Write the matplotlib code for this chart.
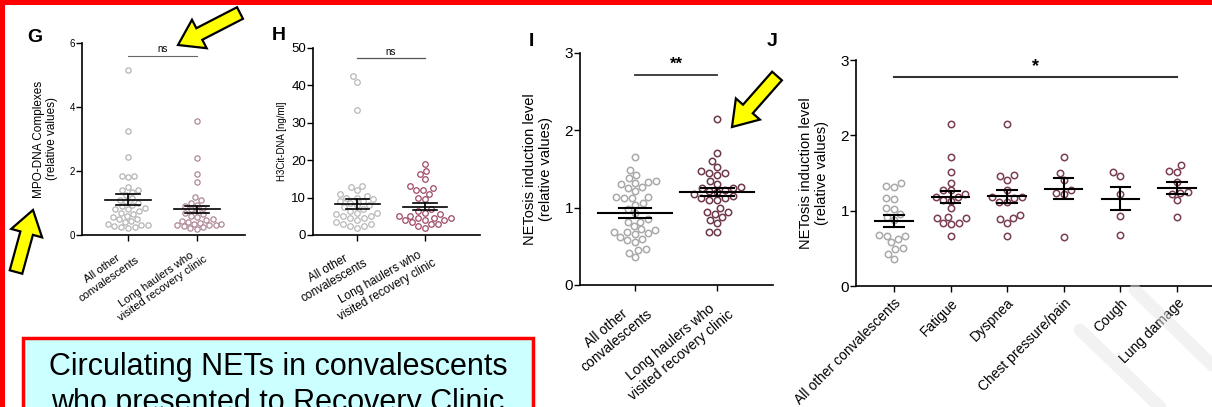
import numpy as np
import matplotlib
matplotlib.use("Agg")
import matplotlib.pyplot as plt
from matplotlib.patches import Rectangle, FancyArrow

plt.rcParams['font.family'] = ['Liberation Sans', 'DejaVu Sans']

# ---- data ----
two_groups = ["All other\nconvalescents", "Long haulers who\nvisited recovery clinic"]

g_other = [5.15, 3.25, 2.45, 1.85, 1.85, 1.8, 1.5, 1.42, 1.4, 1.35, 1.25, 1.15, 1.1, 1.05,
           1.0, 0.95, 0.9, 0.85, 0.8, 0.8, 0.75, 0.7, 0.65, 0.6, 0.55, 0.5, 0.5, 0.45, 0.4,
           0.35, 0.3, 0.3, 0.28, 0.25, 0.25, 0.22]
g_long = [3.55, 2.4, 1.9, 1.65, 1.18, 1.1, 1.0, 0.95, 0.9, 0.85, 0.8, 0.75, 0.7, 0.65, 0.6,
          0.55, 0.5, 0.48, 0.45, 0.4, 0.38, 0.35, 0.35, 0.32, 0.3, 0.3, 0.28, 0.25, 0.22, 0.2]
g_mean = [1.1, 0.8]
g_sem = [0.17, 0.12]

h_other = [42.5, 41, 33.5, 13.2, 12.8, 12, 11, 10.5, 10, 10, 9.5, 9, 9, 8.5, 8, 8, 7.5, 7,
           6.5, 6, 6, 5.5, 5, 5, 4.5, 4.5, 4, 3.5, 3, 3, 2.5, 2.5, 2]
h_long = [19, 17, 16.3, 15, 13, 12.5, 12, 12, 11, 10, 9.5, 7, 6.5, 6, 5.5, 5, 5, 4.5, 4.5,
          4.5, 4, 4, 4, 3.5, 3, 3, 2.5, 2]
h_mean = [8.3, 7.6]
h_sem = [1.4, 1.0]

i_other = [1.65, 1.49, 1.42, 1.38, 1.34, 1.33, 1.32, 1.31, 1.27, 1.26, 1.22, 1.14, 1.14,
           1.13, 1.12, 1.06, 1.03, 0.98, 0.93, 0.85, 0.82, 0.82, 0.76, 0.72, 0.71, 0.69,
           0.68, 0.67, 0.66, 0.62, 0.6, 0.58, 0.55, 0.46, 0.45, 0.42, 0.36]
i_long = [2.15, 1.71, 1.6, 1.52, 1.48, 1.45, 1.45, 1.42, 1.35, 1.3, 1.27, 1.26, 1.25, 1.23,
          1.21, 1.2, 1.18, 1.15, 1.13, 1.12, 1.1, 1.1, 1.0, 0.95, 0.95, 0.92, 0.88, 0.84,
          0.8, 0.68, 0.68]
i_mean = [0.93, 1.2]
i_sem = [0.065, 0.05]

j_groups = ["All other convalescents", "Fatigue", "Dyspnea", "Chest pressure/pain",
            "Cough", "Lung damage"]
j_other = [1.37, 1.33, 1.32, 1.17, 1.16, 1.03, 1.02, 0.95, 0.92, 0.88, 0.68, 0.67, 0.67,
           0.62, 0.58, 0.5, 0.49, 0.43, 0.36]
j_fatigue = [2.15, 1.71, 1.51, 1.37, 1.28, 1.27, 1.22, 1.18, 1.18, 1.14, 1.13, 1.03, 0.91,
             0.9, 0.9, 0.84, 0.83, 0.82, 0.67]
j_dyspnea = [2.15, 1.47, 1.46, 1.41, 1.27, 1.18, 1.18, 1.17, 1.12, 1.11, 0.94, 0.9, 0.89,
             0.83, 0.67]
j_chest = [1.71, 1.5, 1.41, 1.28, 1.23, 1.22, 0.65]
j_cough = [1.51, 1.46, 1.22, 0.93, 0.68]
j_lung = [1.6, 1.52, 1.51, 1.38, 1.25, 1.24, 1.22, 1.14, 0.92]
j_mean = [0.86, 1.18, 1.19, 1.29, 1.16, 1.30]
j_sem = [0.08, 0.08, 0.09, 0.14, 0.15, 0.085]

GREY = '#a9a9a9'
W, H = 1212, 407
fig = plt.figure(figsize=(W / 100, H / 100), dpi=100)
fig.patch.set_facecolor('white')


def px_axes(left, top, right, bottom):
    # axes placed by pixel box
    return fig.add_axes([left / W, 1 - bottom / H, (right - left) / W, (bottom - top) / H])


def swarm(ax, xc, vals, color, ms, mew, maxw):
    # beeswarm kept inside +-maxw pixels; overlaps allowed when it gets crowded
    fig.canvas.draw()
    t = ax.transData
    d = (ms + mew) * 1.39 * 0.95
    offs = sorted(np.arange(-maxw, maxw + 0.5, 1.0), key=abs)
    placed = []
    for v in sorted(vals):
        px, py = t.transform((xc, v))
        best, bestd = 0.0, -1
        for off in offs:
            md = min([np.hypot(px + off - a, py - b) for a, b in placed] or [1e9])
            if md >= d:
                best = off
                break
            if md > bestd:
                best, bestd = off, md
        placed.append((px + best, py))
    pts = t.inverted().transform(placed)
    ax.plot(pts[:, 0], pts[:, 1], 'o', ms=ms, mfc='none', mec=color, mew=mew,
            clip_on=False, zorder=2)


def mean_sem(ax, means, sems, half=0.3, cap=0.15, lw=1.4):
    for i, (m, s) in enumerate(zip(means, sems)):
        ax.plot([i - half, i + half], [m, m], color='black', lw=lw, zorder=3)
        ax.plot([i, i], [m - s, m + s], color='black', lw=lw, zorder=3)
        ax.plot([i - cap, i + cap], [m - s, m - s], color='black', lw=lw, zorder=3)
        ax.plot([i - cap, i + cap], [m + s, m + s], color='black', lw=lw, zorder=3)


def style(ax, xlim, ylim, yticks, tfs, labels, xfs, rot):
    ax.set_xlim(*xlim)
    ax.set_ylim(*ylim)
    ax.set_yticks(yticks)
    ax.set_xticks(range(len(labels)))
    ax.set_xticklabels(labels, rotation=rot, ha='right', rotation_mode='anchor',
                       fontsize=xfs, multialignment='center')
    ax.tick_params(axis='y', labelsize=tfs, length=4, width=1, pad=1)
    ax.tick_params(axis='x', length=4, width=1, pad=3)
    for s in ['top', 'right']:
        ax.spines[s].set_visible(False)
    for s in ['left', 'bottom']:
        ax.spines[s].set_linewidth(1.2)
    ax.patch.set_alpha(0)


# ---- G ----
axG = px_axes(82, 43, 245, 235)
style(axG, (-0.67, 1.7), (0, 6), [0, 2, 4, 6], 7, two_groups, 8, 35)
axG.set_ylabel("MPO-DNA Complexes\n(relative values)", fontsize=8.5, labelpad=8)
swarm(axG, 0, g_other, '#b4b4b4', 3.8, 0.9, 24)
swarm(axG, 1, g_long, '#b08898', 3.8, 0.9, 24)
mean_sem(axG, g_mean, g_sem, half=0.33, cap=0.17, lw=1.2)
axG.plot([0, 1], [5.6, 5.6], color='#666666', lw=0.8)
axG.text(0.5, 5.65, "ns", ha='center', va='bottom', fontsize=7)

# ---- H ----
axH = px_axes(313, 48, 480, 235)
style(axH, (-0.65, 1.81), (0, 50), [0, 10, 20, 30, 40, 50], 9.5, two_groups, 8.5, 30)
axH.set_ylabel("H3Cit-DNA [ng/ml]", fontsize=7, labelpad=3)
swarm(axH, 0, h_other, '#b8b8b8', 4.0, 0.9, 24)
swarm(axH, 1, h_long, '#a04a66', 4.0, 0.9, 26)
mean_sem(axH, h_mean, h_sem, half=0.33, cap=0.17, lw=1.2)
axH.plot([0, 1], [47.2, 47.2], color='#555555', lw=0.9)
axH.text(0.5, 47.7, "ns", ha='center', va='bottom', fontsize=7)

# ---- I ----
axI = px_axes(580, 53, 773, 285)
style(axI, (-0.67, 1.68), (0, 3), [0, 1, 2, 3], 11, two_groups, 10, 40)
axI.set_ylabel("NETosis induction level\n(relative values)", fontsize=10.5, labelpad=8)
swarm(axI, 0, i_other, GREY, 4.6, 1.1, 28)
swarm(axI, 1, i_long, '#6e3a4a', 4.6, 1.1, 28)
mean_sem(axI, i_mean, i_sem, half=0.45, cap=0.2, lw=1.5)
axI.plot([0, 1], [2.72, 2.72], color='#333333', lw=1.3)
axI.text(0.5, 2.76, "**", ha='center', va='bottom', fontsize=12, fontweight='bold')

# ---- J ----
axJ = px_axes(856, 60, 1212, 286)
style(axJ, (-0.67, 5.62), (0, 3), [0, 1, 2, 3], 11, j_groups, 10, 45)
axJ.set_ylabel("NETosis induction level\n(relative values)", fontsize=10.5, labelpad=8)
j_sets = [j_other, j_fatigue, j_dyspnea, j_chest, j_cough, j_lung]
for i, vals in enumerate(j_sets):
    swarm(axJ, i, vals, GREY if i == 0 else '#7a3f52', 4.6, 1.1, 19)
mean_sem(axJ, j_mean, j_sem, half=0.33, cap=0.17, lw=1.5)
axJ.plot([0, 5], [2.77, 2.77], color='#333333', lw=1.5)
axJ.text(2.5, 2.8, "*", ha='center', va='bottom', fontsize=13, fontweight='bold')

# ---- slide overlay: letters, arrows, box, frame ----
ov = fig.add_axes([0, 0, 1, 1], zorder=10)
ov.set_xlim(0, W)
ov.set_ylim(H, 0)
ov.axis('off')
ov.patch.set_alpha(0)

for lab, x, y in [("G", 35, 38), ("H", 279, 36), ("I", 531, 41), ("J", 772, 41)]:
    ov.text(x, y, lab, fontsize=14, fontweight='bold', ha='center', va='center')

for (x0, y0, x1, y1) in [(240, 13, 178, 45), (16, 272, 33, 210), (777, 76, 732, 127)]:
    ov.add_patch(FancyArrow(x0, y0, x1 - x0, y1 - y0, width=13, head_width=32,
                            head_length=24, length_includes_head=True,
                            fc='#ffff00', ec='black', lw=1.6))

# faint watermark strokes
for (x0, y0, x1, y1) in [(1135, 290, 1212, 365), (1080, 330, 1160, 407)]:
    ov.plot([x0, x1], [y0, y1], color='#e6e6e6', lw=9, alpha=0.5, solid_capstyle='round',
            zorder=0)

ov.add_patch(Rectangle((23, 338), 510, 90, fc='#ccffff', ec='#ff0000', lw=2.5))
ov.text(278, 367, "Circulating NETs in convalescents", fontsize=22, ha='center', va='center')
ov.text(278, 403, "who presented to Recovery Clinic", fontsize=22, ha='center', va='center')

ov.add_patch(Rectangle((0, 0), W, 5, fc='#ff0000', ec='none'))
ov.add_patch(Rectangle((0, 0), 4.5, H, fc='#ff0000', ec='none'))

fig.savefig("out.png", dpi=100)
